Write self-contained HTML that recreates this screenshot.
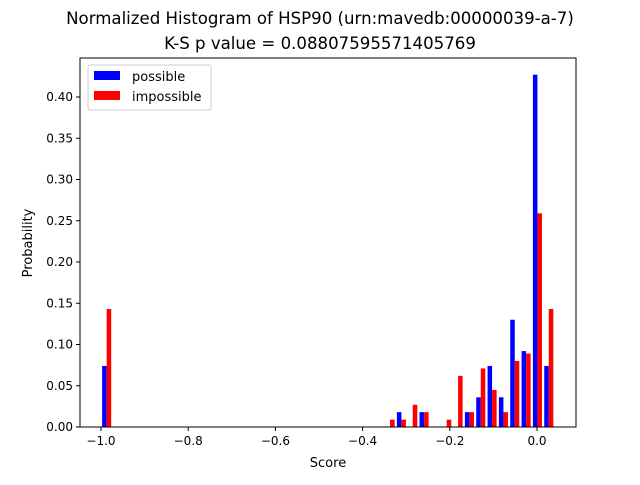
<!DOCTYPE html>
<html><head><meta charset="utf-8"><style>
body{margin:0;background:#fff;font-family:"Liberation Sans","DejaVu Sans",sans-serif}
svg text{font-family:"DejaVu Sans","Liberation Sans",sans-serif;fill:#000}
</style></head><body>
<svg id="chart" width="640" height="480">
<text x="320" y="24" font-size="16.6" text-anchor="middle">Normalized Histogram of HSP90 (urn:mavedb:00000039-a-7)</text>
<text x="320" y="49" font-size="16.6" text-anchor="middle">K-S p value = 0.08807595571405769</text>
<g id="bars"></g>
<g id="axes"></g>
<text x="328" y="467" font-size="13" text-anchor="middle">Score</text>
<text x="32" y="243" font-size="13" text-anchor="middle" transform="rotate(-90 32 243)">Probability</text>
<g>
<rect x="88" y="65" width="123" height="45" fill="#fff" stroke="#ccc" rx="2"/>
<g><rect x="94" y="71" width="26" height="9" fill="#0000ff"/><text x="132" y="81" font-size="13">possible</text></g>
<g><rect x="94" y="91" width="26" height="9" fill="#ff0000"/><text x="132" y="101" font-size="13">impossible</text></g>
</g>
</svg>
<script>
const binCount = 40;
const binMin = -1.0;
const binMax = 0.04;
const binIndex = [0,25,26,27,28,30,31,32,33,34,35,36,37,38,39];
const possible = [0.074,0,0.018,0,0.018,0,0,0.018,0.036,0.074,0.036,0.130,0.092,0.427,0.074];
const impossible = [0.143,0.0089,0.0089,0.027,0.018,0.0089,0.062,0.018,0.071,0.045,0.018,0.080,0.089,0.259,0.143];
const xTicks = [-1.0,-0.8,-0.6,-0.4,-0.2,0.0];
const xTickLabels = ["\u22121.0","\u22120.8","\u22120.6","\u22120.4","\u22120.2","0.0"];
const yTicks = [0,0.05,0.1,0.15,0.2,0.25,0.3,0.35,0.4];
const yTickLabels = ["0.00","0.05","0.10","0.15","0.20","0.25","0.30","0.35","0.40"];

const L=80,R=576,T=58,B=427;
const xs=v=>101+(v+1)*436;
const ys=v=>B-v*825;
const NS="http://www.w3.org/2000/svg";
const bars=document.getElementById('bars'), axes=document.getElementById('axes');
function mk(tag,attrs,parent){const e=document.createElementNS(NS,tag);for(const k in attrs)e.setAttribute(k,attrs[k]);parent.appendChild(e);return e;}
const w=(binMax-binMin)/binCount;
binIndex.forEach((bi,i)=>{
  const left=binMin+bi*w;
  const bw=xs(left+0.4*w)-xs(left);
  [[possible[i],'#0000ff',0.1,'possible'],[impossible[i],'#ff0000',0.5,'impossible']].forEach(([v,c,off,nm])=>{
    if(v<=0)return;
    const r=mk('rect',{x:xs(left+off*w),y:ys(v),width:bw,height:B-ys(v),fill:c},bars);
    
    
  });
});
mk('rect',{x:L,y:T,width:R-L,height:B-T,fill:'none',stroke:'#000','stroke-width':1},axes);
xTicks.forEach((t,i)=>{
  const x=xs(t);
  mk('line',{x1:x,x2:x,y1:B,y2:B+4,stroke:'#000'},axes);
  const tx=mk('text',{x:x,y:B+18,'font-size':12,'text-anchor':'middle'},axes);tx.textContent=xTickLabels[i];
  
  
});
yTicks.forEach((t,i)=>{
  const y=ys(t);
  mk('line',{x1:L-4,x2:L,y1:y,y2:y,stroke:'#000'},axes);
  const tx=mk('text',{x:L-7,y:y+4,'font-size':12,'text-anchor':'end'},axes);tx.textContent=yTickLabels[i];
  
  
});
</script>
</body></html>
